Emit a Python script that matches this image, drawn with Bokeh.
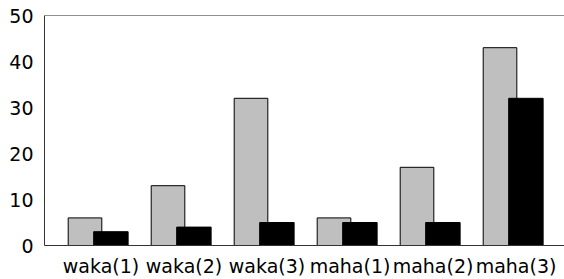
from bokeh.plotting import figure
from bokeh.models import ColumnDataSource, Range1d, FixedTicker, Span
from bokeh.transform import dodge
from bokeh.embed import file_html
from bokeh.resources import INLINE

categories = ["waka(1)", "waka(2)", "waka(3)", "maha(1)", "maha(2)", "maha(3)"]
gray_values = [6, 13, 32, 6, 17, 43]
black_values = [3, 4, 5, 5, 5, 32]
y_ticks = [0, 10, 20, 30, 40, 50]

xs = list(range(len(categories)))
source = ColumnDataSource(dict(x=xs, gray=gray_values, black=black_values))

p = figure(width=564, height=279, output_backend="svg", toolbar_location=None,
           x_range=Range1d(-0.681, 5.584), y_range=Range1d(0, 50),
           min_border_left=44, min_border_right=0, min_border_top=15, min_border_bottom=32)

p.vbar(x=dodge('x', -0.193), top='gray', width=0.405, bottom=0, source=source,
       fill_color="#bfbfbf", line_color="black", line_width=1)
p.vbar(x=dodge('x', 0.119), top='black', width=0.415, bottom=0, source=source,
       fill_color="black", line_color="black", line_width=1)

p.add_layout(Span(location=50, dimension="width", line_color="#222222", line_width=1))

p.outline_line_color = None
p.xgrid.grid_line_color = None
p.ygrid.grid_line_color = None

font = "DejaVu Sans"
p.xaxis.ticker = FixedTicker(ticks=xs)
p.xaxis.major_label_overrides = {i: c for i, c in zip(xs, categories)}
p.yaxis.ticker = FixedTicker(ticks=y_ticks)
for ax in (p.xaxis, p.yaxis):
    ax.axis_line_color = "#333333"
    ax.axis_line_width = 1
    ax.major_tick_line_color = None
    ax.minor_tick_line_color = None
    ax.major_tick_out = 0
    ax.major_tick_in = 0
    ax.major_label_text_font = font
    ax.major_label_text_font_size = "19px"
    ax.major_label_text_color = "black"
p.yaxis.major_label_standoff = 11
p.xaxis.major_label_standoff = 9

p.background_fill_color = "white"
p.border_fill_color = "white"

open("out.html", "w").write(file_html(p, INLINE))
